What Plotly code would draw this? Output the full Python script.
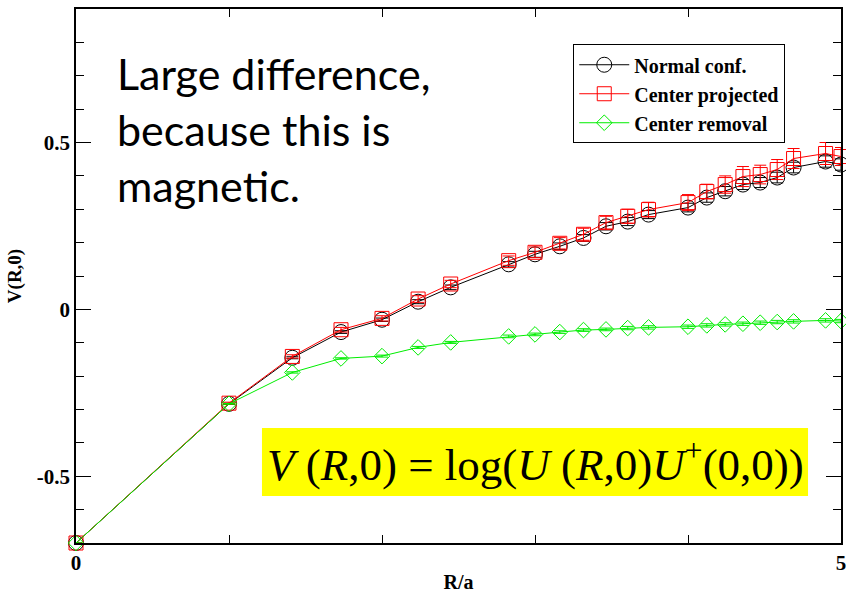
import plotly.graph_objects as go

# Lattice separations R/a
r_vals = [0, 1, 1.414, 1.732, 2, 2.236, 2.449, 2.828, 3, 3.162, 3.317, 3.464,
          3.606, 3.742, 4, 4.123, 4.243, 4.359, 4.472, 4.583, 4.690, 4.899, 5]

# V(R,0) for each configuration set
v_normal = [-0.700, -0.283, -0.145, -0.068, -0.031, 0.023, 0.066, 0.135, 0.165,
            0.189, 0.214, 0.249, 0.263, 0.284, 0.305, 0.335, 0.354, 0.374,
            0.380, 0.395, 0.425, 0.443, 0.434]
err_normal = [0.0, 0.002, 0.003, 0.004, 0.005, 0.006, 0.007, 0.008, 0.009, 0.010,
              0.010, 0.011, 0.012, 0.012, 0.013, 0.014, 0.014, 0.015, 0.015,
              0.016, 0.016, 0.017, 0.017]

v_projected = [-0.700, -0.281, -0.141, -0.061, -0.027, 0.031, 0.076, 0.146, 0.171,
               0.198, 0.225, 0.260, 0.279, 0.299, 0.320, 0.353, 0.374, 0.398,
               0.404, 0.419, 0.452, 0.467, 0.458]
err_projected = [0.0, 0.003, 0.005, 0.007, 0.008, 0.010, 0.011, 0.014, 0.016, 0.017,
                 0.018, 0.019, 0.021, 0.022, 0.024, 0.022, 0.026, 0.030, 0.028,
                 0.030, 0.030, 0.033, 0.027]

v_removal = [-0.700, -0.283, -0.189, -0.147, -0.140, -0.114, -0.099, -0.081, -0.075,
             -0.068, -0.062, -0.060, -0.056, -0.054, -0.052, -0.048, -0.045, -0.043,
             -0.040, -0.038, -0.036, -0.033, -0.035]
err_removal = [0.0, 0.001, 0.002, 0.002, 0.003, 0.003, 0.003, 0.004, 0.004, 0.004,
               0.004, 0.004, 0.005, 0.005, 0.005, 0.005, 0.005, 0.005, 0.005,
               0.005, 0.005, 0.005, 0.005]

series_names = ["Normal conf.", "Center projected", "Center removal"]

x_tickvals = [0, 5]
x_ticktext = ["0", "5"]
y_tickvals = [-0.5, 0, 0.5]
y_ticktext = ["-0.5", "0", "0.5"]

serif = "Liberation Serif"

fig = go.Figure()

styles = [
    (v_normal, err_normal, "#000000", "circle-open", 15),
    (v_projected, err_projected, "#ff0000", "square-open", 14),
    (v_removal, err_removal, "#00ee00", "diamond-open", 12),
]
for name, (vals, errs, color, symbol, size) in zip(series_names, styles):
    fig.add_trace(go.Scatter(
        x=r_vals, y=vals, name=name, mode="lines+markers",
        line=dict(color=color, width=1),
        marker=dict(symbol=symbol, size=size, color=color, line=dict(width=1, color=color)),
        error_y=dict(type="data", array=errs, color=color, thickness=1, width=6),
        cliponaxis=False,
    ))

axis_common = dict(
    showgrid=False, zeroline=False, showline=True, linecolor="black", linewidth=1.5,
    mirror="ticks", ticks="inside", tickcolor="black", tickwidth=1, ticklen=15,
    tickfont=dict(family=serif, size=21, color="black", weight="bold"),
    automargin=False, ticklabeloverflow="allow",
)

fig.update_xaxes(
    range=[0, 5], tickmode="array", tickvals=x_tickvals, ticktext=x_ticktext,
    minor=dict(dtick=1, ticks="inside", ticklen=8, tickcolor="black", tickwidth=1),
    title=dict(text="R/a", font=dict(family=serif, size=20, color="black", weight="bold"), standoff=8),
    **axis_common,
)
fig.update_yaxes(
    range=[-0.7, 0.9], tickmode="array", tickvals=y_tickvals, ticktext=y_ticktext,
    minor=dict(dtick=0.1, tick0=0, ticks="inside", ticklen=8, tickcolor="black", tickwidth=1),
    title=dict(text="V(R,0)", font=dict(family=serif, size=19, color="black", weight="bold"), standoff=10),
    **axis_common,
)

# Yellow box behind the formula
fig.add_shape(type="rect", xref="paper", yref="paper",
              x0=0.2431, x1=0.9569, y0=0.0880, y1=0.2154,
              fillcolor="#ffff00", line=dict(width=0), layer="above")

fig.add_annotation(
    xref="paper", yref="paper", x=0.6, y=0.1517, xanchor="center", yanchor="middle",
    text="<i>V</i> (<i>R</i>,0) = log(<i>U</i> (<i>R</i>,0)<i>U</i><sup>+</sup>(0,0))",
    showarrow=False, font=dict(family=serif, size=45, color="black"),
)

fig.add_annotation(
    xref="paper", yref="paper", x=0.051, y=0.93, xanchor="left", yanchor="top",
    align="left", showarrow=False,
    text="Large difference,<br>because this is<br>magnetic.",
    font=dict(family="Lato", size=43, color="black"),
)

fig.update_layout(
    width=846, height=593,
    margin=dict(l=76, r=5, t=9, b=50),
    paper_bgcolor="white", plot_bgcolor="white",
    showlegend=True,
    legend=dict(
        x=0.65, y=0.934, xanchor="left", yanchor="top",
        bordercolor="black", borderwidth=1, bgcolor="white",
        font=dict(family=serif, size=20, color="black", weight="bold"),
        tracegroupgap=0, itemwidth=50,
    ),
)

fig.write_html("out.html")
